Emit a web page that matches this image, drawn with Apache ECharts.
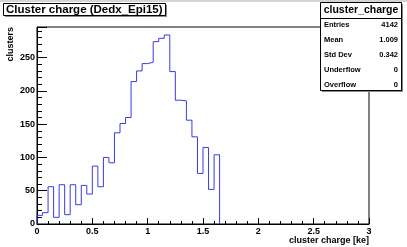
<!DOCTYPE html>
<html>
<head>
<meta charset="utf-8">
<script src="https://cdn.jsdelivr.net/npm/echarts@6/dist/echarts.min.js"></script>
<style>
html,body{margin:0;padding:0;background:#fff;}
#chart{width:407px;height:247px;}
</style>
</head>
<body>
<div id="chart"></div>
<script>
// ---- data ----
var chartTitle = 'Cluster charge (Dedx_Epi15)';
var histName = 'cluster_charge';
var xTitle = 'cluster charge [ke]';
var yTitle = 'clusters';
var binStart = 0;
var binWidth = 0.05;
var binCounts = [13, 17, 56, 10, 59, 14, 59, 29, 58, 45, 87, 56, 100, 92, 137, 151, 160, 214,
                 230, 241, 243, 274, 279, 284, 229, 186, 185, 156, 131, 76, 115, 52, 104];
var statLabels = ['Entries', 'Mean', 'Std Dev', 'Underflow', 'Overflow'];
var statValues = ['4142', '1.009', '0.342', '0', '0'];
var xMin = 0, xMax = 3, xStep = 0.5;
var yMin = 0, yMax = 296, yStep = 50;

// ---- build step outline ----
var pts = [[binStart, 0]];
for (var i = 0; i < binCounts.length; i++) {
  pts.push([+(binStart + i * binWidth).toFixed(4), binCounts[i]]);
}
var xEnd = +(binStart + binCounts.length * binWidth).toFixed(4);
pts.push([xEnd, binCounts[binCounts.length - 1]]);
pts.push([xEnd, 0]);

var FONT = 'Liberation Sans';
var chart = echarts.init(document.getElementById('chart'), null, {renderer: 'canvas'});

var statEls = [];
var rowY = [25, 40, 55, 70, 85];
for (var k = 0; k < statLabels.length; k++) {
  statEls.push({type: 'text', z: 102, x: 324, y: rowY[k],
    style: {text: statLabels[k], fill: '#000', font: 'bold 7.5px "' + FONT + '"', align: 'left', verticalAlign: 'middle'}});
  statEls.push({type: 'text', z: 102, x: 398, y: rowY[k],
    style: {text: statValues[k], fill: '#000', font: 'bold 7.5px "' + FONT + '"', align: 'right', verticalAlign: 'middle'}});
}

chart.setOption({
  animation: false,
  backgroundColor: '#fff',
  grid: {left: 37, right: 38, top: 27, bottom: 23, show: true, borderColor: '#000', borderWidth: 1, backgroundColor: '#fff'},
  xAxis: {
    type: 'value', min: xMin, max: xMax, interval: xStep,
    axisLine: {show: true, lineStyle: {color: '#000', width: 1}},
    axisTick: {show: true, inside: true, length: 6, lineStyle: {color: '#000'}},
    minorTick: {show: true, splitNumber: 5, length: 3, lineStyle: {color: '#000'}},
    splitLine: {show: false},
    axisLabel: {show: true, margin: 3, color: '#000', fontFamily: FONT, fontWeight: 'bold', fontSize: 9}
  },
  yAxis: {
    type: 'value', min: yMin, max: yMax, interval: yStep,
    axisLine: {show: true, lineStyle: {color: '#000', width: 1}},
    axisTick: {show: true, inside: true, length: 10, lineStyle: {color: '#000'}},
    minorTick: {show: true, splitNumber: 5, length: 5, lineStyle: {color: '#000'}},
    splitLine: {show: false},
    axisLabel: {show: true, margin: 2, color: '#000', fontFamily: FONT, fontWeight: 'bold', fontSize: 9,
      formatter: function (v) { return (v % yStep === 0) ? String(v) : ''; }}
  },
  series: [{
    type: 'line', data: pts, step: 'end', symbol: 'none', clip: true,
    lineStyle: {color: '#3a3ae0', width: 1}, itemStyle: {color: '#3a3ae0'}
  }],
  graphic: [
    {type: 'rect', z: 100, shape: {x: 0, y: 0, width: 407, height: 2}, style: {fill: '#d4d4d4'}},
    // title box
    {type: 'rect', z: 100, shape: {x: 5, y: 5, width: 162, height: 12}, style: {fill: '#8a8a8a'}},
    {type: 'rect', z: 101, shape: {x: 3.5, y: 3.5, width: 162, height: 12}, style: {fill: '#fff', stroke: '#000', lineWidth: 1}},
    {type: 'text', z: 102, x: 6, y: 10, style: {text: chartTitle, fill: '#000', font: 'bold 11.5px "' + FONT + '"', align: 'left', verticalAlign: 'middle'}},
    // stats box
    {type: 'rect', z: 100, shape: {x: 322, y: 4, width: 81, height: 88}, style: {fill: '#8a8a8a'}},
    {type: 'rect', z: 101, shape: {x: 320.5, y: 2.5, width: 81, height: 88}, style: {fill: '#fff', stroke: '#000', lineWidth: 1}},
    {type: 'line', z: 102, shape: {x1: 320.5, y1: 18.5, x2: 401.5, y2: 18.5}, style: {stroke: '#000', lineWidth: 1}},
    {type: 'text', z: 102, x: 361, y: 10.5, style: {text: histName, fill: '#000', font: 'bold 10.5px "' + FONT + '"', align: 'center', verticalAlign: 'middle'}}
  ].concat(statEls).concat([
    // axis titles
    {type: 'text', z: 102, x: 369, y: 241, style: {text: xTitle, fill: '#000', font: 'bold 9px "' + FONT + '"', align: 'right', verticalAlign: 'middle'}},
    {type: 'text', z: 102, x: 11, y: 27, rotation: Math.PI / 2, style: {text: yTitle, fill: '#000', font: 'bold 9px "' + FONT + '"', align: 'right', verticalAlign: 'middle'}}
  ])
});
</script>
</body>
</html>
